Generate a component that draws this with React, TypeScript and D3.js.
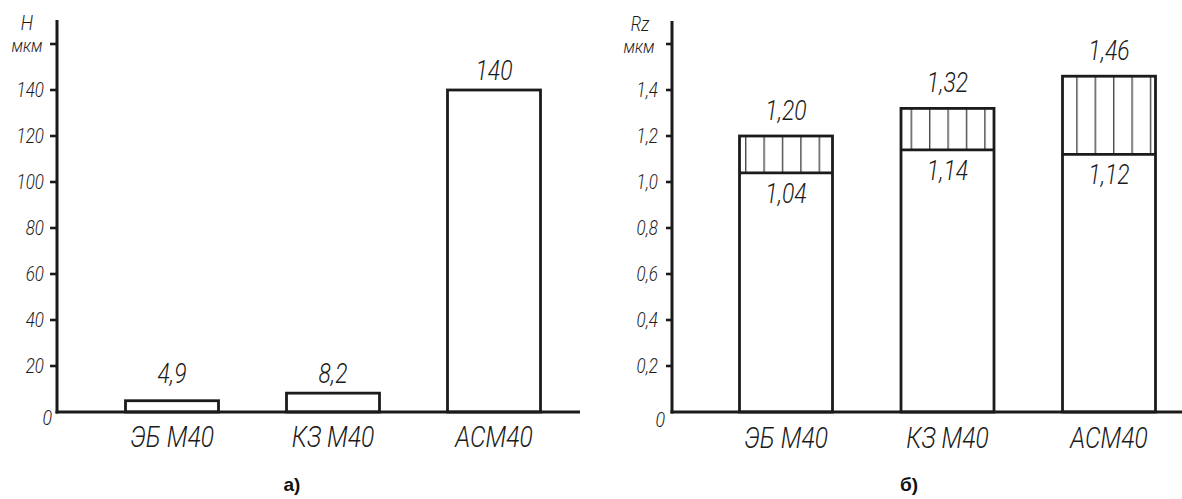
import React from "react";
import * as d3 from "d3";

// Coating types shared by both panels
const categories = ["ЭБ М40", "КЗ М40", "АСМ40"];

// Panel а): wear depth H, µm
const wearH = [4.9, 8.2, 140];
const wearTicks = [20, 40, 60, 80, 100, 120, 140];

// Panel б): roughness Rz, µm — lower (after) and upper (before) levels
const rzLower = [1.04, 1.14, 1.12];
const rzUpper = [1.2, 1.32, 1.46];
const rzTicks = [0.2, 0.4, 0.6, 0.8, 1.0, 1.2, 1.4];

const W = 1182;
const H = 499;
const INK = "#1b1b1b";
const FONT = "Roboto, 'Open Sans', sans-serif";
const SQUEEZE = 0.85;

type TxtProps = {
  x: number;
  y: number;
  size: number;
  anchor?: "start" | "middle" | "end";
  children: React.ReactNode;
};

// Narrow italic drafting-style text
function Txt({ x, y, size, anchor = "middle", children }: TxtProps) {
  return (
    <text
      transform={`translate(${x},${y}) scale(${SQUEEZE},1)`}
      textAnchor={anchor}
      fontFamily={FONT}
      fontStyle="italic"
      fontWeight={300}
      fontSize={size}
      fill={INK}
    >
      {children}
    </text>
  );
}

const comma = (s: string) => s.replace(".", ",");

export default function App() {
  // ---- Panel а) ----
  const axL = 57;
  const yL = d3.scaleLinear().domain([0, 160]).range([412, 44]);
  const xL = d3.scalePoint<string>().domain(categories).range([172, 494]);
  const barW = 93;

  // ---- Panel б) ----
  const axR = 672;
  const yR = d3.scaleLinear().domain([0, 1.6]).range([412, 44]);
  const xR = d3.scalePoint<string>().domain(categories).range([786, 1109]);

  const fmt1 = d3.format(".1f");
  const fmt2 = d3.format(".2f");

  return (
    <svg
      width={W}
      height={H}
      viewBox={`0 0 ${W} ${H}`}
      style={{ position: "absolute", left: 0, top: 0, background: "#fff" }}
    >
      <defs>
        <pattern
          id="vhatch"
          patternUnits="userSpaceOnUse"
          x={745}
          y={0}
          width={18.4}
          height={10}
        >
          <line x1={0.7} y1={0} x2={0.7} y2={10} stroke="#4a4a4a" strokeWidth={1.4} />
        </pattern>
      </defs>

      {/* ===== Panel а ===== */}
      <g>
        {/* bars */}
        {categories.map((c, i) => {
          const cx = xL(c) as number;
          return (
            <rect
              key={c}
              x={cx - barW / 2}
              y={yL(wearH[i])}
              width={barW}
              height={yL(0) - yL(wearH[i])}
              fill="#fff"
              stroke={INK}
              strokeWidth={2.8}
            />
          );
        })}
        {/* axes */}
        <line x1={axL} y1={20} x2={axL} y2={yL(0) + 1.5} stroke={INK} strokeWidth={3} />
        <line x1={axL - 1.5} y1={yL(0)} x2={580} y2={yL(0)} stroke={INK} strokeWidth={3} />
        {[...wearTicks, 160].map((t) => (
          <line key={t} x1={axL - 7} y1={yL(t)} x2={axL} y2={yL(t)} stroke={INK} strokeWidth={2.6} />
        ))}
        {wearTicks.map((t) => (
          <Txt key={t} x={44} y={yL(t) + 7} size={20} anchor="end">
            {String(t)}
          </Txt>
        ))}
        <Txt x={52} y={425} size={21} anchor="end">0</Txt>
        <Txt x={27} y={30} size={21}>H</Txt>
        <Txt x={27} y={52} size={19}>мкм</Txt>
        {/* value labels */}
        {categories.map((c, i) => {
          const v = wearH[i];
          const txt = Number.isInteger(v) ? String(v) : comma(fmt1(v));
          return (
            <Txt key={c} x={xL(c) as number} y={Math.min(yL(v) - 10, yL(0) - 29)} size={27}>
              {txt}
            </Txt>
          );
        })}
        {categories.map((c) => (
          <Txt key={c} x={xL(c) as number} y={447} size={29}>
            {c}
          </Txt>
        ))}
        <text
          x={292}
          y={491}
          textAnchor="middle"
          fontFamily="'Liberation Sans', Arial, sans-serif"
          fontWeight="bold"
          fontSize={19}
          fill="#111"
        >
          а)
        </text>
      </g>

      {/* ===== Panel б ===== */}
      <g>
        {categories.map((c, i) => {
          const cx = xR(c) as number;
          const x0 = cx - barW / 2;
          return (
            <g key={c}>
              <rect
                x={x0}
                y={yR(rzUpper[i])}
                width={barW}
                height={yR(rzLower[i]) - yR(rzUpper[i])}
                fill="url(#vhatch)"
              />
              <rect
                x={x0}
                y={yR(rzUpper[i])}
                width={barW}
                height={yR(0) - yR(rzUpper[i])}
                fill="none"
                stroke={INK}
                strokeWidth={2.8}
              />
              <line
                x1={x0}
                x2={x0 + barW}
                y1={yR(rzLower[i])}
                y2={yR(rzLower[i])}
                stroke={INK}
                strokeWidth={2.8}
              />
              <Txt x={cx} y={yR(rzUpper[i]) - 16} size={27}>
                {comma(fmt2(rzUpper[i]))}
              </Txt>
              <Txt x={cx} y={yR(rzLower[i]) + 30} size={27}>
                {comma(fmt2(rzLower[i]))}
              </Txt>
            </g>
          );
        })}
        <line x1={axR} y1={21} x2={axR} y2={yR(0) + 1.5} stroke={INK} strokeWidth={3} />
        <line x1={axR - 1.5} y1={yR(0)} x2={W} y2={yR(0)} stroke={INK} strokeWidth={3} />
        {[...rzTicks, 1.6].map((t) => (
          <line key={t} x1={axR - 6} y1={yR(t)} x2={axR} y2={yR(t)} stroke={INK} strokeWidth={2.6} />
        ))}
        {rzTicks.map((t) => (
          <Txt key={t} x={658} y={yR(t) + 7} size={20} anchor="end">
            {comma(fmt1(t))}
          </Txt>
        ))}
        <Txt x={665} y={427} size={21} anchor="end">0</Txt>
        <Txt x={640} y={31} size={20}>Rz</Txt>
        <Txt x={639} y={53} size={19}>мкм</Txt>
        {categories.map((c) => (
          <Txt key={c} x={xR(c) as number} y={448} size={29}>
            {c}
          </Txt>
        ))}
        <text
          x={909}
          y={491}
          textAnchor="middle"
          fontFamily="'Liberation Sans', Arial, sans-serif"
          fontWeight="bold"
          fontSize={19}
          fill="#111"
        >
          б)
        </text>
      </g>
    </svg>
  );
}
